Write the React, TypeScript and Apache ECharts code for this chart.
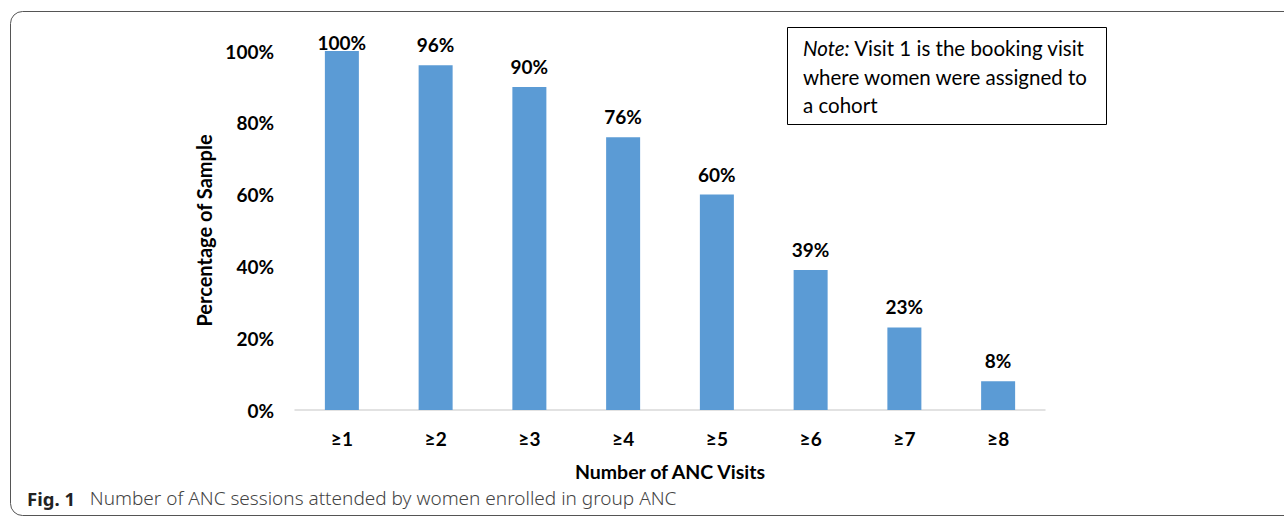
import React, { useEffect, useRef } from "react";
import * as echarts from "echarts";

const categories = ["≥1", "≥2", "≥3", "≥4", "≥5", "≥6", "≥7", "≥8"];
const values = [100, 96, 90, 76, 60, 39, 23, 8];
const yTicks = { min: 0, max: 100, interval: 20 };
const yTitle = "Percentage of Sample";
const xTitle = "Number of ANC Visits";
const noteLines = ["Visit 1 is the booking visit", "where women were assigned to", "a cohort"];
const captionLabel = "Fig. 1";
const captionText = "Number of ANC sessions attended by women enrolled in group ANC";

export default function App() {
  const ref = useRef<HTMLDivElement>(null);
  useEffect(() => {
    if (!ref.current) return;
    const chart = echarts.init(ref.current, undefined, { renderer: "svg" });
    const font = "Lato, 'Open Sans', sans-serif";
    const capFont = "'Noto Sans', 'Open Sans', sans-serif";
    const fs = 19;
    chart.setOption({
      animation: false,
      backgroundColor: "#fff",
      textStyle: { fontFamily: font },
      grid: { left: 295, right: 239, top: 51, bottom: 107 },
      xAxis: {
        type: "category",
        data: categories,
        axisLine: { lineStyle: { color: "#d9d9d9", width: 1.5 } },
        axisTick: { show: false },
        axisLabel: { color: "#000", fontWeight: "bold", fontSize: fs, margin: 19, fontFamily: font },
        name: xTitle,
        nameLocation: "middle",
        nameGap: 51,
        nameTextStyle: { color: "#000", fontWeight: "bold", fontSize: 19.5, fontFamily: font },
      },
      yAxis: {
        type: "value",
        min: yTicks.min,
        max: yTicks.max,
        interval: yTicks.interval,
        axisLine: { show: false },
        axisTick: { show: false },
        splitLine: { show: false },
        axisLabel: { formatter: "{value}%", color: "#000", fontWeight: "bold", fontSize: fs, margin: 21, fontFamily: font },
        name: yTitle,
        nameLocation: "middle",
        nameGap: 78,
        nameTextStyle: { color: "#000", fontWeight: "bold", fontSize: 20, fontFamily: font },
      },
      series: [
        {
          type: "bar",
          barWidth: 34,
          itemStyle: { color: "#5B9BD5" },
          label: {
            show: true,
            position: "top",
            distance: 11,
            formatter: "{c}%",
            color: "#000",
            fontWeight: "bold",
            fontSize: fs,
            fontFamily: font,
          },
          data: values.map((v, i) => (i === 0 ? { value: v, label: { distance: -1 } } : v)),
        },
      ],
      graphic: [
        {
          type: "rect",
          shape: { x: 10.5, y: 11.5, width: 1320, height: 504, r: 12 },
          style: { fill: "none", stroke: "#555", lineWidth: 1 },
          silent: true,
        },
        {
          type: "rect",
          shape: { x: 787.5, y: 27.5, width: 319, height: 97 },
          style: { fill: "#fff", stroke: "#000", lineWidth: 1 },
        },
        {
          type: "text",
          x: 803,
          y: 34,
          style: {
            text: "{i|Note:} " + noteLines[0] + "\n" + noteLines[1] + "\n" + noteLines[2],
            fontFamily: font,
            fontSize: 20.5,
            lineHeight: 28.5,
            fill: "#000",
            rich: {
              i: { fontStyle: "italic", fontFamily: font, fontSize: 20.5, lineHeight: 28.5 },
            },
          },
        },
        {
          type: "text",
          x: 27,
          y: 498,
          style: {
            text: "{b|" + captionLabel + "}   " + captionText,
            fontFamily: capFont,
            fontSize: 19,
            fontWeight: 300,
            fill: "#444",
            verticalAlign: "middle",
            rich: {
              b: { fontWeight: "bold", fontFamily: capFont, fontSize: 18.5, fill: "#222" },
            },
          },
        },
      ],
    });
    return () => chart.dispose();
  }, []);
  return <div ref={ref} style={{ position: "absolute", left: 0, top: 0, width: 1284, height: 517 }} />;
}
